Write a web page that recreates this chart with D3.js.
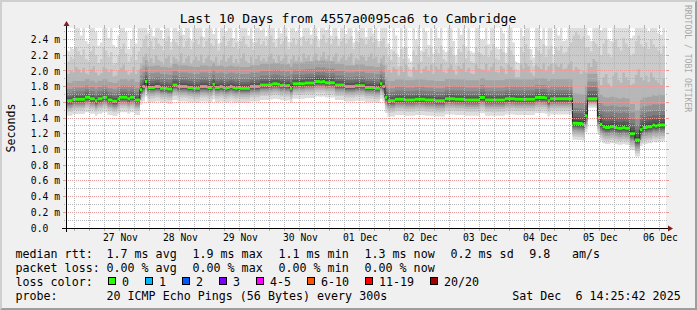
<!DOCTYPE html>
<html><head><meta charset="utf-8">
<script src="https://cdn.jsdelivr.net/npm/d3@7"></script>
<style>
html,body{margin:0;padding:0;background:#f0f0f0;}
svg{display:block;}
text{font-family:"DejaVu Sans Mono",monospace;white-space:pre;}
</style></head><body>
<svg id="c" width="697" height="310"></svg>
<script>
// ---------------- data ----------------
const title = "Last 10 Days from 4557a0095ca6 to Cambridge";
const yAxisTitle = "Seconds";
const watermark = "RRDTOOL / TOBI OETIKER";
const startTime = "2025-11-26T14:25:42Z";
const endTime = "2025-12-06T14:25:42Z";
const firstSample = "2025-11-26T15:00:00Z";   // hourly consolidated samples
const yMax = 2.546;                            // ms
const yTickValues = [0,0.2,0.4,0.6,0.8,1.0,1.2,1.4,1.6,1.8,2.0,2.2,2.4];
const yTickLabels = ["0.0  ","0.2 m","0.4 m","0.6 m","0.8 m","1.0 m","1.2 m","1.4 m","1.6 m","1.8 m","2.0 m","2.2 m","2.4 m"];
const yMinorValues = [0.1,0.3,0.5,0.7,0.9,1.1,1.3,1.5,1.7,1.9,2.1,2.3,2.5];
const xTickDates = ["2025-11-27T12:00:00Z","2025-11-28T12:00:00Z","2025-11-29T12:00:00Z","2025-11-30T12:00:00Z","2025-12-01T12:00:00Z","2025-12-02T12:00:00Z","2025-12-03T12:00:00Z","2025-12-04T12:00:00Z","2025-12-05T12:00:00Z","2025-12-06T12:00:00Z"];
const xTickLabels = ["27 Nov","28 Nov","29 Nov","30 Nov","01 Dec","02 Dec","03 Dec","04 Dec","05 Dec","06 Dec"];
const gridHoursMinor = 6;   // minor vertical grid every 6 h, major at midnight

// median rtt (ms), one per hour
const median = [
1.62,1.62,1.62,1.64,1.64,1.64,1.64,1.64,1.665,1.665,
1.645,1.645,1.62,1.645,1.645,1.665,1.665,1.63,1.63,1.615,
1.615,1.645,1.665,1.665,1.665,1.645,1.665,1.665,1.63,1.63,
1.76,1.80,1.865,1.79,1.79,1.79,1.80,1.80,1.78,1.78,
1.78,1.77,1.77,1.82,1.82,1.80,1.80,1.80,1.80,1.79,
1.79,1.78,1.78,1.78,1.80,1.80,1.80,1.79,1.79,1.83,
1.79,1.79,1.80,1.79,1.78,1.79,1.80,1.79,1.78,1.79,
1.78,1.78,1.78,1.78,1.80,1.80,1.80,1.80,1.82,1.82,
1.82,1.82,1.825,1.835,1.835,1.83,1.815,1.82,1.81,1.815,
1.78,1.835,1.835,1.835,1.835,1.835,1.845,1.845,1.845,1.845,
1.865,1.865,1.86,1.865,1.85,1.85,1.85,1.85,1.82,1.82,
1.82,1.82,1.80,1.80,1.80,1.80,1.81,1.81,1.81,1.81,
1.79,1.79,1.79,1.79,1.78,1.78,1.835,1.80,1.665,1.62,
1.62,1.62,1.64,1.64,1.64,1.64,1.63,1.63,1.63,1.63,
1.64,1.64,1.64,1.64,1.63,1.63,1.63,1.63,1.62,1.62,
1.62,1.62,1.645,1.645,1.645,1.645,1.64,1.64,1.64,1.64,
1.63,1.63,1.63,1.63,1.63,1.63,1.66,1.66,1.63,1.63,
1.63,1.63,1.63,1.63,1.63,1.63,1.645,1.645,1.645,1.645,
1.64,1.64,1.64,1.64,1.64,1.64,1.64,1.64,1.66,1.66,
1.66,1.66,1.655,1.62,1.645,1.645,1.645,1.645,1.645,1.645,
1.645,1.645,1.645,1.335,1.335,1.33,1.33,1.32,1.43,1.645,
1.645,1.645,1.645,1.40,1.32,1.29,1.28,1.28,1.29,1.29,
1.28,1.27,1.27,1.28,1.27,1.27,1.20,1.20,1.12,1.12,
1.25,1.28,1.28,1.29,1.29,1.31,1.30,1.31,1.31,1.31];

// highest three of the 20 pings per hour (ms)
const ping20 = [
2.27,2.25,2.30,2.28,2.60,2.60,2.45,2.60,2.38,2.35,
2.60,2.60,2.50,2.32,2.36,2.60,2.60,2.42,2.60,2.33,
2.30,2.45,2.60,2.60,2.50,2.28,2.40,2.60,2.35,2.60,
2.60,2.60,2.60,2.48,2.60,2.44,2.60,2.60,2.52,2.41,
2.60,2.60,2.37,2.60,2.60,2.50,2.60,2.46,2.60,2.60,
2.39,2.60,2.60,2.55,2.60,2.43,2.60,2.60,2.60,2.47,
2.60,2.35,2.60,2.60,2.50,2.60,2.60,2.42,2.60,2.38,
2.60,2.60,2.60,2.45,2.60,2.36,2.60,2.60,2.52,2.60,
2.44,2.60,2.60,2.60,2.40,2.60,2.48,2.60,2.60,2.37,
2.60,2.60,2.50,2.60,2.43,2.60,2.60,2.60,2.46,2.60,
2.60,2.39,2.60,2.60,2.52,2.60,2.45,2.60,2.60,2.41,
2.60,2.60,2.47,2.60,2.60,2.36,2.60,2.50,2.60,2.60,
2.43,2.60,2.60,2.48,2.60,2.38,2.60,2.60,2.60,2.35,
2.28,2.60,2.45,2.18,2.60,2.30,2.60,2.16,2.12,2.60,
2.40,2.60,2.26,2.60,2.50,2.33,2.60,2.22,2.60,2.42,
2.60,2.27,2.24,2.60,2.60,2.38,2.20,2.60,2.46,2.60,
2.31,2.60,2.25,2.23,2.60,2.60,2.40,2.40,2.60,2.34,
2.60,2.60,2.30,2.28,2.60,2.48,2.23,2.60,2.60,2.36,
2.12,2.10,2.60,2.44,2.60,2.60,2.28,2.17,2.60,2.60,
2.40,2.60,2.32,2.60,2.60,2.21,2.60,2.45,2.60,2.38,
2.39,2.60,2.60,2.60,2.60,2.60,2.60,2.60,2.60,2.45,
2.38,2.60,2.60,2.60,2.52,2.60,2.60,2.40,2.38,2.60,
2.60,2.60,2.55,2.60,2.60,2.60,2.42,2.45,2.60,2.60,
2.60,2.60,2.60,2.50,2.60,2.60,2.60,2.48,2.46,2.60];
const ping19 = [
2.10,2.12,2.18,2.15,2.30,2.25,2.20,2.28,2.15,2.12,
2.25,2.32,2.20,2.10,2.15,2.30,2.26,2.18,2.24,2.08,
2.10,2.20,2.28,2.35,2.22,2.12,2.18,2.30,2.14,2.25,
2.30,2.40,2.45,2.30,2.38,2.28,2.42,2.35,2.32,2.26,
2.38,2.44,2.27,2.40,2.36,2.32,2.45,2.30,2.38,2.42,
2.28,2.36,2.40,2.34,2.44,2.30,2.38,2.42,2.35,2.32,
2.40,2.26,2.36,2.44,2.32,2.38,2.42,2.30,2.36,2.28,
2.38,2.44,2.34,2.30,2.40,2.27,2.36,2.42,2.34,2.38,
2.32,2.40,2.45,2.36,2.30,2.42,2.34,2.38,2.44,2.28,
2.36,2.42,2.34,2.40,2.32,2.44,2.38,2.42,2.34,2.40,
2.44,2.30,2.40,2.46,2.36,2.42,2.34,2.40,2.44,2.32,
2.38,2.42,2.35,2.40,2.44,2.28,2.38,2.36,2.42,2.40,
2.34,2.40,2.44,2.36,2.40,2.30,2.38,2.42,2.30,2.18,
2.14,2.25,2.22,2.06,2.28,2.15,2.30,2.05,2.02,2.26,
2.20,2.32,2.12,2.24,2.28,2.18,2.30,2.10,2.28,2.22,
2.32,2.15,2.12,2.26,2.30,2.20,2.08,2.28,2.24,2.34,
2.16,2.26,2.12,2.10,2.30,2.24,2.22,2.20,2.32,2.18,
2.26,2.34,2.16,2.14,2.28,2.24,2.10,2.30,2.26,2.20,
2.02,2.00,2.30,2.24,2.34,2.28,2.14,2.06,2.30,2.26,
2.22,2.34,2.18,2.28,2.32,2.10,2.30,2.26,2.32,2.22,
2.24,2.30,2.36,2.45,2.50,2.46,2.40,2.44,2.30,2.30,
2.25,2.38,2.35,2.30,2.20,2.35,2.40,2.22,2.18,2.36,
2.40,2.30,2.26,2.42,2.35,2.30,2.20,2.22,2.38,2.45,
2.34,2.30,2.36,2.28,2.40,2.34,2.30,2.26,2.22,2.32];
const ping18 = [
1.95,1.96,2.00,1.98,2.05,2.02,1.98,2.04,1.97,1.95,
2.02,2.06,1.98,1.94,1.97,2.05,2.03,1.99,2.02,1.93,
1.94,2.00,2.04,2.08,2.00,1.95,1.98,2.05,1.96,2.01,
2.10,2.18,2.22,2.12,2.16,2.10,2.20,2.14,2.12,2.08,
2.16,2.20,2.08,2.18,2.15,2.12,2.22,2.10,2.16,2.19,
2.09,2.14,2.18,2.13,2.21,2.10,2.16,2.20,2.14,2.12,
2.18,2.08,2.14,2.21,2.12,2.16,2.20,2.10,2.15,2.09,
2.16,2.22,2.13,2.10,2.18,2.08,2.15,2.20,2.13,2.16,
2.12,2.18,2.22,2.15,2.10,2.20,2.13,2.16,2.21,2.09,
2.15,2.20,2.13,2.18,2.12,2.22,2.16,2.20,2.13,2.18,
2.22,2.12,2.18,2.24,2.15,2.20,2.13,2.18,2.22,2.12,
2.16,2.20,2.14,2.18,2.22,2.08,2.16,2.14,2.20,2.18,
2.13,2.18,2.22,2.15,2.18,2.10,2.16,2.20,2.08,2.00,
1.98,2.05,2.02,1.94,2.06,1.99,2.08,1.93,1.92,2.05,
2.01,2.09,1.97,2.03,2.06,2.00,2.08,1.96,2.06,2.02,
2.09,1.99,1.97,2.04,2.08,2.01,1.95,2.06,2.03,2.10,
1.99,2.04,1.97,1.96,2.08,2.03,2.02,2.01,2.09,2.00,
2.05,2.10,1.99,1.98,2.06,2.03,1.96,2.08,2.05,2.01,
1.92,1.92,2.08,2.03,2.10,2.06,1.98,1.94,2.08,2.05,
2.02,2.10,2.00,2.06,2.09,1.96,2.08,2.05,2.09,2.02,
2.03,2.08,2.12,2.00,2.05,2.02,1.96,2.00,1.98,2.10,
2.05,2.15,2.12,1.88,1.82,1.92,1.96,1.84,1.80,1.94,
1.98,1.88,1.85,1.98,1.92,1.88,1.82,1.84,1.95,2.02,
1.92,1.88,1.94,1.86,1.98,1.92,1.88,1.85,1.82,1.90];

// remaining 17 pings as offsets (ms) from the median, per period of similar spread
const regimeStart = [0, 30, 128, 203, 209, 213];
const regimeOffsets = [
 [-0.19,-0.14,-0.11,-0.09,-0.07,-0.055,-0.04,-0.03,-0.02,-0.008, 0.008,0.02,0.04,0.065,0.10,0.15,0.23],
 [-0.19,-0.14,-0.11,-0.085,-0.065,-0.05,-0.038,-0.028,-0.018,-0.008, 0.008,0.025,0.05,0.08,0.12,0.18,0.27],
 [-0.20,-0.15,-0.115,-0.09,-0.07,-0.055,-0.04,-0.03,-0.02,-0.008, 0.008,0.02,0.045,0.07,0.11,0.16,0.25],
 [-0.21,-0.17,-0.14,-0.11,-0.085,-0.065,-0.05,-0.035,-0.02,-0.008, 0.01,0.04,0.08,0.13,0.19,0.27,0.38],
 [-0.115,-0.09,-0.07,-0.055,-0.045,-0.035,-0.025,-0.018,-0.01,-0.005, 0.01,0.03,0.06,0.10,0.15,0.22,0.32],
 [-0.21,-0.17,-0.14,-0.11,-0.085,-0.065,-0.05,-0.035,-0.02,-0.008, 0.01,0.04,0.08,0.13,0.19,0.27,0.38]
];

// legend
const rttLabel = "median rtt:";
const rttItems = ["1.7 ms avg","1.9 ms max","1.1 ms min","1.3 ms now","0.2 ms sd","9.8","am/s"];
const lossLabel = "packet loss:";
const lossItems = ["0.00 % avg","0.00 % max","0.00 % min","0.00 % now"];
const colorLabel = "loss color:";
const lossColorNames = ["0","1","2","3","4-5","6-10","11-19","20/20"];
const lossColors = ["#26ff00","#00b8ff","#0059ff","#7e00ff","#ff00ff","#ff5500","#ff0000","#a10000"];
const probeLabel = "probe:";
const probeText = "20 ICMP Echo Pings (56 Bytes) every 300s";
const stampText = "Sat Dec  6 14:25:42 2025";

// ---------------- drawing ----------------
const W = 697, H = 310;
const svg = d3.select("#c");
const X0 = 66, X1 = 666, Y0 = 228, Y1 = 28;
const x = d3.scaleUtc().domain([new Date(startTime), new Date(endTime)]).range([X0, X1]);
const y = d3.scaleLinear().domain([0, yMax]).range([Y0, Y1]);

const minorCol = "#b4b4b4", majorCol = "#eb9a9a";

svg.append("rect").attr("width", W).attr("height", H).attr("fill", "#f0f0f0");
svg.append("path").attr("d", `M0,${H}L2,${H-2}L2,2L${W-2},2L${W},0L0,0Z`).attr("fill", "#cfcfcf");
svg.append("path").attr("d", `M2,${H-2}L${W-2},${H-2}L${W-2},2L${W},0L${W},${H}L0,${H}Z`).attr("fill", "#9e9e9e");

svg.append("rect").attr("x", X0).attr("y", Y1).attr("width", X1 - X0).attr("height", Y0 - Y1).attr("fill", "#ffffff");
svg.append("defs").append("clipPath").attr("id", "cv").append("rect")
  .attr("x", X0).attr("y", Y1).attr("width", X1 - X0).attr("height", Y0 - Y1);

const hour = 3600e3;
const tFirst = new Date(firstSample).getTime();
const pts = median.map((m, i) => {
  let r = 0;
  regimeStart.forEach((s, j) => { if (i >= s) r = j; });
  const vals = regimeOffsets[r].map(o => m + o).concat([ping18[i], ping19[i], ping20[i]]);
  vals.sort((a, b) => a - b);
  return { t: tFirst + (i - 1) * hour, med: m, p: vals };
});
const last = pts[pts.length - 1];
const ptsEnd = pts.concat([{ t: last.t + hour, med: last.med, p: last.p }]);

const plot = svg.append("g").attr("clip-path", "url(#cv)");
const half = 10;
for (let k = 0; k < half; k++) {
  const c = Math.floor(190 / half * (half - (k + 1))) + 50;
  const fillCol = d3.rgb(c, c, c).formatHex();
  const area = d3.area().curve(d3.curveStepAfter)
    .x(d => x(new Date(d.t)))
    .y0(d => y(d.p[k]))
    .y1(d => y(d.p[19 - k]));
  plot.append("path").datum(ptsEnd).attr("d", area).attr("fill", fillCol);
}

// grid (dotted 1 on / 1 off)
const grid = svg.append("g");
function hDots(yy, col) {
  grid.append("line").attr("x1", X0 - 2).attr("x2", X1 + 2).attr("y1", yy + 0.5).attr("y2", yy + 0.5)
    .attr("stroke", col).attr("stroke-width", 1).attr("stroke-dasharray", "1 1");
}
function vDots(xx, col) {
  grid.append("line").attr("x1", xx + 0.5).attr("x2", xx + 0.5).attr("y1", Y1 - 2).attr("y2", Y0 + 2)
    .attr("stroke", col).attr("stroke-width", 1).attr("stroke-dasharray", "1 1");
}
yMinorValues.forEach(v => hDots(Math.floor(y(v)), minorCol));
yTickValues.filter(v => v > 0).forEach(v => {
  const yy = Math.floor(y(v));
  hDots(yy, majorCol);
  grid.append("rect").attr("x", X0 - 3).attr("y", yy).attr("width", 3).attr("height", 1).attr("fill", majorCol);
  grid.append("rect").attr("x", X1).attr("y", yy).attr("width", 3).attr("height", 1).attr("fill", majorCol);
});
const gridTimes = d3.utcHours(new Date(startTime), new Date(endTime))
  .filter(t => t.getUTCHours() % gridHoursMinor === 0);
gridTimes.forEach(t => {
  const xx = Math.floor(x(t));
  const col = t.getUTCHours() === 0 ? majorCol : minorCol;
  vDots(xx, col);
  grid.append("rect").attr("x", xx).attr("y", Y0).attr("width", 1).attr("height", 3).attr("fill", col);
  grid.append("rect").attr("x", xx).attr("y", Y1 - 3).attr("width", 1).attr("height", 3).attr("fill", col);
});

// median line + loss-coloured band
const mline = d3.line().curve(d3.curveStepAfter).x(d => x(new Date(d.t))).y(d => y(d.med));
plot.append("path").datum(ptsEnd).attr("d", mline).attr("fill", "none").attr("stroke", "#202020").attr("stroke-width", 1);
const mband = d3.area().curve(d3.curveStepAfter).x(d => x(new Date(d.t)))
  .y0(d => y(d.med) + 1.5).y1(d => y(d.med) - 1.5);
plot.append("path").datum(ptsEnd).attr("d", mband).attr("fill", lossColors[0]);

// axes
const yAx = svg.append("g").attr("transform", `translate(${X0},0)`)
  .call(d3.axisLeft(y).tickValues(yTickValues).tickSize(0).tickPadding(6)
    .tickFormat((d, i) => yTickLabels[i]));
yAx.select(".domain").remove();
yAx.selectAll("text").attr("font-family", "DejaVu Sans Mono").attr("font-size", "9.7px").attr("fill", "#000");

const xAx = svg.append("g").attr("transform", `translate(0,${Y0})`)
  .call(d3.axisBottom(x).tickValues(xTickDates.map(s => new Date(s))).tickSize(0).tickPadding(6)
    .tickFormat((d, i) => xTickLabels[i]));
xAx.select(".domain").remove();
xAx.selectAll("text").attr("font-family", "DejaVu Sans Mono").attr("font-size", "9.7px").attr("fill", "#000");

svg.append("line").attr("x1", X0 - 4).attr("x2", X1 + 4).attr("y1", Y0 + 0.5).attr("y2", Y0 + 0.5).attr("stroke", "#000");
svg.append("line").attr("x1", X0 + 0.5).attr("x2", X0 + 0.5).attr("y1", Y0 + 4).attr("y2", Y1 - 4).attr("stroke", "#000");
svg.append("path").attr("d", `M${X1 + 2},${Y0 - 2.5}L${X1 + 2},${Y0 + 3.5}L${X1 + 7},${Y0 + 0.5}Z`).attr("fill", "#7f1f1f");
svg.append("path").attr("d", `M${X0 - 2.5},${Y1 - 2}L${X0 + 3.5},${Y1 - 2}L${X0 + 0.5},${Y1 - 7}Z`).attr("fill", "#7f1f1f");

// titles
svg.append("text").attr("x", 348).attr("y", 23).attr("text-anchor", "middle")
  .attr("font-size", "13px").attr("fill", "#000").text(title);
svg.append("text").attr("transform", `translate(15,${(Y0 + Y1) / 2}) rotate(-90)`).attr("text-anchor", "middle")
  .attr("font-size", "11.6px").attr("fill", "#000").text(yAxisTitle);
svg.append("text").attr("transform", "translate(684.5,5) rotate(90)")
  .attr("font-size", "8.1px").attr("fill", "#a8a8a8").text(watermark);

// legend
const lg = svg.append("g").attr("font-size", "11.67px").attr("fill", "#000");
const cols = [106.5, 192.5, 278.5, 364.5, 450.5, 529.2, 572];
lg.append("text").attr("x", 15.5).attr("y", 258).text(rttLabel);
rttItems.forEach((s, i) => lg.append("text").attr("x", cols[i]).attr("y", 258).text(s));
lg.append("text").attr("x", 15.5).attr("y", 272).text(lossLabel);
lossItems.forEach((s, i) => lg.append("text").attr("x", cols[i]).attr("y", 272).text(s));
lg.append("text").attr("x", 15.5).attr("y", 286).text(colorLabel);
let sx = 108;
lossColorNames.forEach((n, i) => {
  lg.append("rect").attr("x", sx + 0.5).attr("y", 277.5).attr("width", 7).attr("height", 7)
    .attr("fill", lossColors[i]).attr("stroke", "#000").attr("stroke-width", 1);
  lg.append("text").attr("x", sx + 14).attr("y", 286).text(n);
  sx += 30 + n.length * 7;
});
lg.append("text").attr("x", 15.5).attr("y", 300).text(probeLabel);
lg.append("text").attr("x", cols[0]).attr("y", 300).text(probeText);
lg.append("text").attr("x", 680.7).attr("y", 300).attr("text-anchor", "end").text(stampText);
</script>
</body></html>
